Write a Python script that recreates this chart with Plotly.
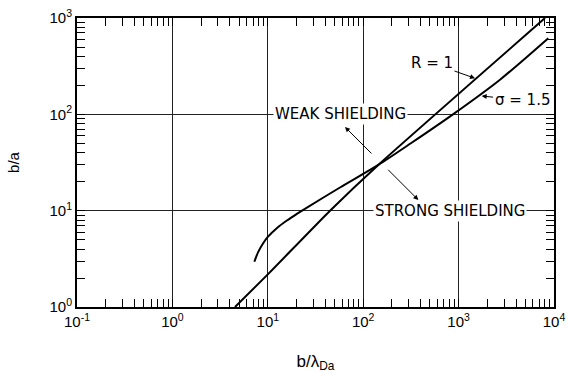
import plotly.graph_objects as go

# ---- data (log-log) ----
r1_x = [4.53, 10, 44.9, 143.9, 8054]
r1_y = [1.0, 2.18, 10.0, 29.85, 1000]

sig_x = [7.23, 7.94, 8.91, 10.0, 12.59, 15.85, 19.95, 23.55, 57.1, 143.9, 316, 873, 2716, 8710]
sig_y = [2.95, 3.74, 4.57, 5.34, 6.65, 7.90, 9.19, 10.2, 17.4, 29.85, 50.1, 100, 229, 617]

x_tick_vals = [0.1, 1, 10, 100, 1000, 10000]
x_tick_text = ["10<sup>-1</sup>", "10<sup>0</sup>", "10<sup>1</sup>", "10<sup>2</sup>", "10<sup>3</sup>", "10<sup>4</sup>"]
y_tick_vals = [1, 10, 100, 1000]
y_tick_text = ["10<sup>0</sup>", "10<sup>1</sup>", "10<sup>2</sup>", "10<sup>3</sup>"]

FONT = "Liberation Sans"

fig = go.Figure()
fig.add_trace(go.Scatter(x=r1_x, y=r1_y, mode="lines",
                         line=dict(color="black", width=2, shape="spline", smoothing=0.5),
                         name="R = 1", showlegend=False, hoverinfo="skip"))
fig.add_trace(go.Scatter(x=sig_x, y=sig_y, mode="lines",
                         line=dict(color="black", width=2, shape="spline", smoothing=0.8),
                         name="σ = 1.5", showlegend=False, hoverinfo="skip"))

axis_common = dict(
    type="log", showgrid=True, gridcolor="#222", gridwidth=1,
    showline=True, linecolor="black", linewidth=2, mirror="allticks",
    ticks="inside", ticklen=0, tickcolor="black",
    minor=dict(ticks="inside", ticklen=8, tickwidth=1, tickcolor="black", dtick="D1", showgrid=False),
    zeroline=False, tickfont=dict(family=FONT, size=15, color="black"),
    tickmode="array", automargin=False,
)

fig.update_xaxes(**axis_common, range=[-1, 4], tickvals=x_tick_vals, ticktext=x_tick_text,
                 title=dict(text="b/λ<sub>Da</sub>",
                            font=dict(family=FONT, size=17, color="black"), standoff=26))
fig.update_yaxes(**axis_common, range=[0, 3], tickvals=y_tick_vals, ticktext=y_tick_text,
                 ticklabelstandoff=0,
                 title=dict(text="b/a", font=dict(family=FONT, size=15, color="black"), standoff=26))

ann_font = dict(family="DejaVu Sans", size=15, color="black")
annotations = [
    dict(x=1.767, y=2.0, text="WEAK SHIELDING", showarrow=False, bgcolor="white", font=ann_font),
    dict(x=2.905, y=1.0, text="STRONG SHIELDING", showarrow=False, bgcolor="white", font=ann_font),
    dict(x=3.172, y=2.374, ax=2.721, ay=2.533, axref="x", ayref="y", text="R = 1",
         showarrow=True, arrowhead=2, arrowsize=1, arrowwidth=1, arrowcolor="black", font=ann_font),
    dict(x=3.242, y=2.19, ax=3.665, ay=2.149, axref="x", ayref="y", text="σ = 1.5",
         showarrow=True, arrowhead=2, arrowsize=1, arrowwidth=1, arrowcolor="black", font=ann_font),
    dict(x=1.809, y=1.869, ax=2.103, ay=1.578, axref="x", ayref="y", text="",
         showarrow=True, arrowhead=2, arrowsize=1, arrowwidth=1, arrowcolor="black"),
    dict(x=2.578, y=1.111, ax=2.246, ay=1.44, axref="x", ayref="y", text="",
         showarrow=True, arrowhead=2, arrowsize=1, arrowwidth=1, arrowcolor="black"),
]
for a in annotations:
    a.update(xref="x", yref="y")

fig.update_layout(
    width=577, height=374,
    margin=dict(l=77, r=23, t=18, b=67),
    paper_bgcolor="white", plot_bgcolor="white",
    showlegend=False,
    annotations=annotations,
    font=dict(family=FONT, color="black"),
)

fig.write_html("out.html")
